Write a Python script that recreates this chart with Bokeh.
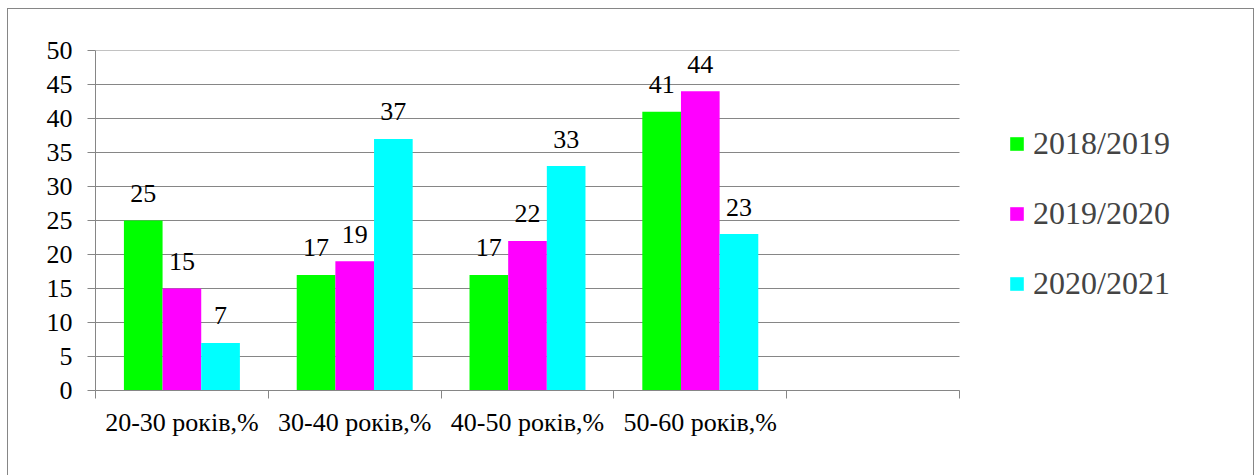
from bokeh.plotting import figure
from bokeh.models import ColumnDataSource, FixedTicker, Legend, LegendItem
from bokeh.core.properties import value
from bokeh.embed import file_html
from bokeh.resources import INLINE

categories = ["20-30 років,%", "30-40 років,%", "40-50 років,%", "50-60 років,%"]
series_names = ["2018/2019", "2019/2020", "2020/2021"]
v2018 = [25, 17, 17, 41]
v2019 = [15, 19, 22, 44]
v2020 = [7, 37, 33, 23]
colors = ["#00FF00", "#FF00FF", "#00FFFF"]
y_ticks = [0, 5, 10, 15, 20, 25, 30, 35, 40, 45, 50]

GRID = "#868686"
FONT = "serif"
n_slots = len(categories) + 1          # the chart keeps one empty slot on the right
frame_px = 1247 - 87                   # frame also hosts the legend
x_end = n_slots * frame_px / 864.0

p = figure(width=1247, height=467, x_range=(0, x_end), y_range=(0, 50),
           output_backend="svg", toolbar_location=None,
           min_border_left=87, min_border_right=0, min_border_top=41,
           min_border_bottom=86)
p.styles = {"margin-left": "7px", "margin-top": "8px",
            "border-top": "1px solid #868686", "border-left": "1px solid #868686",
            "border-right": "1px solid #868686"}
p.outline_line_color = None
p.background_fill_color = "white"
p.border_fill_color = "white"

bw = 0.2237
offsets = [-bw, 0.0, bw]
renderers = []
for vals, name, col, off in zip([v2018, v2019, v2020], series_names, colors, offsets):
    xs = [i + 0.5 + off for i in range(len(categories))]
    src = ColumnDataSource(dict(x=xs, top=vals, lab=[str(v) for v in vals]))
    r = p.vbar(x="x", top="top", width=bw, bottom=0, source=src,
               fill_color=col, line_color=None)
    renderers.append((name, r))
    p.text(x="x", y="top", text="lab", source=src, text_align="center",
           text_baseline="alphabetic", y_offset=-27,
           text_font=value(FONT), text_font_size="26px", text_color="black")

# horizontal gridlines only across the category slots
p.xgrid.grid_line_color = None
p.ygrid.grid_line_color = None
p.segment(x0=[0] * len(y_ticks), x1=[n_slots] * len(y_ticks), y0=y_ticks, y1=y_ticks,
          line_color=GRID, line_width=1, level="underlay")

# y axis
p.yaxis.ticker = FixedTicker(ticks=y_ticks)
p.yaxis.axis_line_color = GRID
p.yaxis.major_tick_line_color = GRID
p.yaxis.major_tick_out = 8
p.yaxis.major_tick_in = 0
p.yaxis.minor_tick_line_color = None
p.yaxis.major_label_text_font = FONT
p.yaxis.major_label_text_font_size = "26px"
p.yaxis.major_label_text_color = "black"
p.yaxis.major_label_standoff = 15

# x axis: labels at category centres, tick marks at slot boundaries
p.xaxis.bounds = (0, n_slots)
p.xaxis.ticker = FixedTicker(ticks=[i + 0.5 for i in range(len(categories))],
                             minor_ticks=list(range(n_slots + 1)))
p.xaxis.major_label_overrides = {i + 0.5: c for i, c in enumerate(categories)}
p.xaxis.axis_line_color = GRID
p.xaxis.major_tick_line_color = None
p.xaxis.major_tick_out = 0
p.xaxis.major_tick_in = 0
p.xaxis.minor_tick_line_color = GRID
p.xaxis.minor_tick_out = 8
p.xaxis.minor_tick_in = 0
p.xaxis.major_label_text_font = FONT
p.xaxis.major_label_text_font_size = "26px"
p.xaxis.major_label_text_color = "black"
p.xaxis.major_label_standoff = 9

legend = Legend(items=[LegendItem(label=n, renderers=[r]) for n, r in renderers],
                location=(913, 88), orientation="vertical",
                glyph_width=17, glyph_height=17, label_standoff=8,
                spacing=33, padding=0, margin=0,
                label_text_font=FONT, label_text_font_size="32px",
                border_line_color=None, background_fill_alpha=0)
p.add_layout(legend, "center")

open("out.html", "w").write(file_html(p, INLINE))
